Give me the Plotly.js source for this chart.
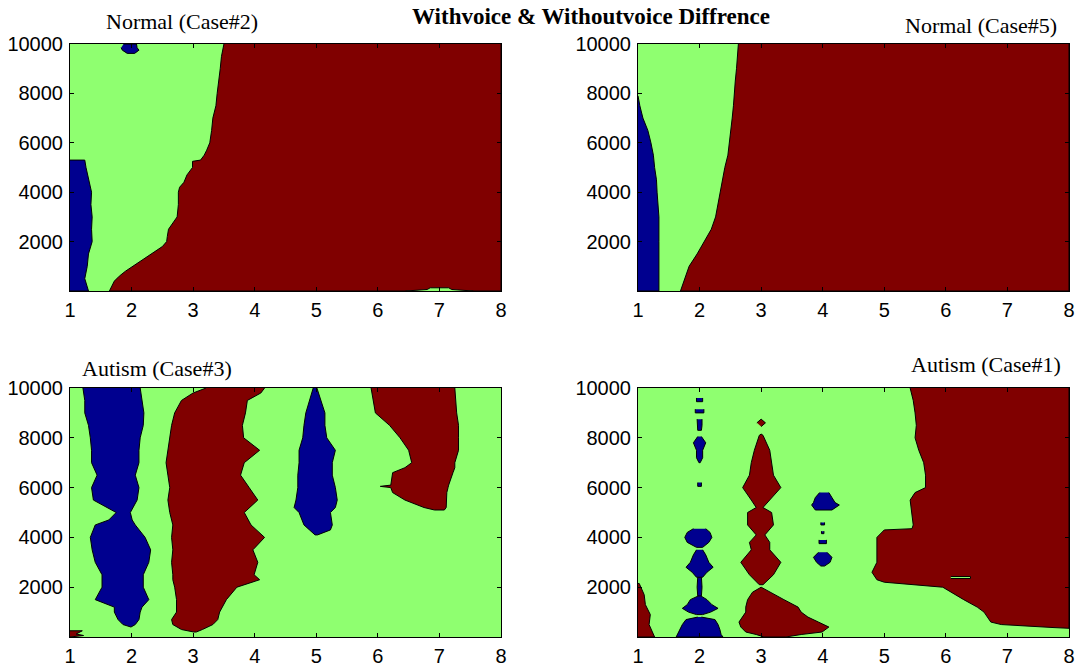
<!DOCTYPE html>
<html>
<head>
<meta charset="utf-8">
<script src="https://cdn.plot.ly/plotly-3.0.1.min.js"></script>
<style>html,body{margin:0;padding:0;background:#fff;}#chart{width:1076px;height:668px;}</style>
</head>
<body>
<div id="chart"></div>
<script>
// ---------- axis data ----------
const xTicks = [1, 2, 3, 4, 5, 6, 7, 8];
const xTickLabels = ['1', '2', '3', '4', '5', '6', '7', '8'];
const yTicks = [2000, 4000, 6000, 8000, 10000];
const yTickLabels = ['2000', '4000', '6000', '8000', '10000'];
const xRange = [1, 8];
const yRange = [0, 10000];

// ---------- Normal (Case#2) ----------
const n2RedY = [10000, 9500, 9000, 8500, 8000, 7500, 7000, 6500, 6000, 5700, 5500, 5300, 5250, 5000, 4700, 4400, 4200, 4000, 3500, 3000, 2700, 2500, 2200, 2000, 1800, 1500, 1200, 1000, 800, 600, 400, 200, 0];
const n2RedLeft = [3.50, 3.46, 3.44, 3.41, 3.39, 3.37, 3.32, 3.30, 3.27, 3.22, 3.18, 3.12, 2.99, 2.99, 2.90, 2.85, 2.78, 2.76, 2.76, 2.74, 2.66, 2.60, 2.58, 2.57, 2.50, 2.32, 2.15, 2.01, 1.90, 1.80, 1.72, 1.68, 1.64];
const n2BlueY = [5300, 5000, 4500, 4000, 3500, 3000, 2500, 2000, 1500, 1000, 500, 200, 0];
const n2BlueRight = [1.24, 1.26, 1.30, 1.35, 1.34, 1.36, 1.35, 1.36, 1.30, 1.28, 1.24, 1.27, 1.30];
const n2TopBlobX = [1.87, 2.08, 2.09, 2.12, 2.05, 1.93, 1.85, 1.83];
const n2TopBlobY = [10000, 10000, 9850, 9750, 9620, 9620, 9750, 9850];
const n2GreenBumpX = [6.45, 6.8, 6.85, 7.15, 7.2, 7.55];
const n2GreenBumpY = [0, 60, 130, 130, 60, 0];

// ---------- Normal (Case#5) ----------
const n5RedY = [10000, 9500, 9000, 8500, 8000, 7500, 7000, 6500, 6000, 5500, 5000, 4500, 4000, 3500, 3000, 2500, 2000, 1500, 1000, 500, 0];
const n5RedLeft = [2.63, 2.62, 2.60, 2.58, 2.57, 2.55, 2.53, 2.51, 2.49, 2.46, 2.41, 2.37, 2.33, 2.30, 2.26, 2.19, 2.08, 1.96, 1.83, 1.76, 1.69];
const n5BlueY = [7900, 7500, 7000, 6500, 6000, 5500, 5000, 4500, 4000, 3000, 2000, 1000, 0];
const n5BlueRight = [1.0, 1.03, 1.08, 1.16, 1.21, 1.25, 1.27, 1.30, 1.31, 1.34, 1.34, 1.34, 1.34];

// ---------- Autism (Case#3) ----------
const a3Blue2Y = [10000, 9500, 9000, 8500, 8000, 7500, 7000, 6500, 6000, 5500, 5000, 4700, 4500, 4000, 3500, 3000, 2500, 2000, 1500, 1200, 1000, 700, 500, 400];
const a3Blue2Left = [1.21, 1.24, 1.24, 1.30, 1.33, 1.35, 1.35, 1.44, 1.35, 1.38, 1.75, 1.63, 1.41, 1.33, 1.36, 1.41, 1.52, 1.52, 1.41, 1.72, 1.72, 1.78, 1.86, 1.97];
const a3Blue2Right = [2.14, 2.17, 2.20, 2.19, 2.14, 2.12, 2.12, 2.06, 2.12, 2.09, 1.98, 2.01, 2.06, 2.22, 2.31, 2.28, 2.19, 2.19, 2.28, 2.17, 2.14, 2.12, 2.06, 1.99];
const a3Red3Y = [10000, 9800, 9500, 9000, 8500, 8000, 7500, 7000, 6500, 6000, 5500, 5000, 4500, 4000, 3500, 3000, 2500, 2300, 2000, 1500, 1000, 700, 500, 300, 200];
const a3Red3Left = [3.21, 3.00, 2.81, 2.70, 2.65, 2.62, 2.59, 2.56, 2.59, 2.62, 2.59, 2.62, 2.67, 2.65, 2.67, 2.65, 2.67, 2.67, 2.70, 2.73, 2.73, 2.65, 2.67, 2.81, 3.01];
const a3Red3Right = [4.16, 4.10, 3.88, 3.85, 3.80, 3.82, 4.08, 3.83, 3.77, 3.91, 4.05, 3.83, 3.94, 4.16, 3.97, 4.05, 3.99, 4.08, 3.71, 3.54, 3.43, 3.40, 3.32, 3.15, 3.05];
const a3Blue5Y = [10000, 9500, 9000, 8500, 8000, 7500, 7000, 6500, 6000, 5500, 5200, 5000, 4500, 4300, 4100];
const a3Blue5Left = [4.95, 4.89, 4.83, 4.80, 4.78, 4.72, 4.72, 4.70, 4.70, 4.67, 4.64, 4.72, 4.80, 4.89, 4.98];
const a3Blue5Right = [5.01, 5.08, 5.14, 5.14, 5.17, 5.31, 5.26, 5.26, 5.31, 5.34, 5.31, 5.23, 5.26, 5.23, 5.02];
const a3Red7Y = [10000, 9000, 8500, 8000, 7500, 7000, 6800, 6600, 6100, 6050, 6000, 5800, 5500, 5200, 5100];
const a3Red7Left = [5.89, 5.96, 6.19, 6.36, 6.50, 6.55, 6.44, 6.24, 6.21, 6.04, 6.21, 6.24, 6.44, 6.75, 6.92];
const a3Red7Right = [7.25, 7.28, 7.31, 7.31, 7.31, 7.25, 7.25, 7.22, 7.15, 7.14, 7.14, 7.12, 7.11, 7.11, 7.08];
const a3RedCornerX = [1.0, 1.2, 1.1, 1.22, 1.0];
const a3RedCornerY = [250, 250, 120, 60, 0];

// ---------- Autism (Case#1) ----------
const a1RedY = [10000, 9500, 9000, 8500, 8000, 7500, 7000, 6500, 6000, 5800, 5500, 5000, 4500, 4350, 4300, 4000, 3500, 3000, 2600, 2300, 2200, 2100, 2000, 1500, 1200, 1000, 800, 600, 500, 420, 380, 350];
const a1RedLeft = [5.42, 5.47, 5.50, 5.52, 5.50, 5.56, 5.64, 5.67, 5.67, 5.50, 5.42, 5.44, 5.47, 5.45, 5.00, 4.88, 4.88, 4.88, 4.80, 4.88, 5.00, 5.50, 5.95, 6.29, 6.51, 6.62, 6.68, 6.73, 6.90, 7.35, 7.74, 8.00];
const a1GreenSliverX = [6.08, 6.40, 6.40, 6.08];
const a1GreenSliverY = [2350, 2350, 2430, 2430];
const a1RedLeftEdgeY = [2150, 1700, 1300, 900, 500, 0];
const a1RedLeftEdgeRight = [1.02, 1.10, 1.12, 1.20, 1.18, 1.27];
const a1Red3UpperY = [8150, 8100, 7500, 7000, 6500, 6000, 5500, 5200, 5000, 4500, 4100, 3800, 3500, 3000, 2500, 2100];
const a1Red3UpperLeft = [3.00, 2.97, 2.89, 2.84, 2.81, 2.70, 2.84, 2.92, 2.78, 2.78, 2.92, 2.81, 2.84, 2.67, 2.81, 2.97];
const a1Red3UpperRight = [3.00, 3.03, 3.14, 3.17, 3.20, 3.32, 3.14, 3.03, 3.17, 3.20, 3.06, 3.14, 3.14, 3.32, 3.20, 3.03];
const a1Red3TipX = [2.93, 3.00, 3.07, 3.00];
const a1Red3TipY = [8600, 8750, 8600, 8450];
const a1Red3LowerY = [2000, 1800, 1500, 1200, 1000, 800, 600, 400, 200, 100, 0];
const a1Red3LowerLeft = [3.00, 2.86, 2.78, 2.75, 2.75, 2.70, 2.64, 2.67, 2.75, 2.92, 3.05];
const a1Red3LowerRight = [3.00, 3.14, 3.37, 3.60, 3.65, 3.76, 3.93, 4.10, 3.99, 3.65, 3.40];
// blue blobs (y levels, left x, right x)
const a1BlueBlobsY = [
  [800, 700, 500, 300, 100, 0],
  [1650, 1500, 1300, 1150, 1000, 900],
  [2400, 2000, 1650],
  [3500, 3300, 3000, 2800, 2600, 2400],
  [4350, 4200, 4000, 3800, 3600],
  [6200, 6050],
  [8050, 7800, 7500, 7200, 7000],
  [8750, 8500, 8300],
  [9150, 9000],
  [9600, 9450],
  [5800, 5600, 5400, 5300, 5100],
  [3400, 3200, 3000, 2850],
  [3900, 3750],
  [4250, 4150],
  [4600, 4500]
];
const a1BlueBlobsLeft = [
  [1.97, 1.78, 1.72, 1.68, 1.65, 1.62],
  [1.98, 1.85, 1.80, 1.72, 1.82, 1.95],
  [1.97, 1.96, 1.97],
  [1.95, 1.90, 1.85, 1.78, 1.88, 1.95],
  [1.90, 1.80, 1.76, 1.80, 1.95],
  [1.97, 1.97],
  [1.97, 1.90, 1.95, 1.95, 1.99],
  [1.96, 1.96, 1.97],
  [1.93, 1.93],
  [1.95, 1.95],
  [3.95, 3.88, 3.85, 3.82, 3.88],
  [3.93, 3.85, 3.90, 3.97],
  [3.94, 3.94],
  [3.98, 3.98],
  [3.97, 3.97]
];
const a1BlueBlobsRight = [
  [2.03, 2.25, 2.30, 2.33, 2.35, 2.38],
  [2.02, 2.12, 2.20, 2.30, 2.18, 2.05],
  [2.03, 2.04, 2.03],
  [2.05, 2.10, 2.15, 2.22, 2.12, 2.05],
  [2.10, 2.17, 2.20, 2.15, 2.05],
  [2.03, 2.03],
  [2.03, 2.10, 2.05, 2.05, 2.01],
  [2.04, 2.04, 2.03],
  [2.07, 2.07],
  [2.05, 2.05],
  [4.10, 4.15, 4.20, 4.27, 4.15],
  [4.07, 4.15, 4.12, 4.03],
  [4.06, 4.06],
  [4.02, 4.02],
  [4.03, 4.03]
];

// ---------- text ----------
const mainTitle = 'Withvoice & Withoutvoice Diffrence';
const panelTitles = ['Normal (Case#2)', 'Normal (Case#5)', 'Autism (Case#3)', 'Autism (Case#1)'];

// ---------- styles ----------
const BLUE = 'rgb(0,0,143)';
const GREEN = 'rgb(143,255,112)';
const RED = 'rgb(128,0,0)';

// ---------- helpers ----------
function band(ys, left, right) {
  return { x: left.concat(right.slice().reverse()), y: ys.concat(ys.slice().reverse()) };
}
function fromLeftEdge(ys, right) {
  return { x: [xRange[0]].concat(right, [xRange[0]]), y: [ys[0]].concat(ys, [ys[ys.length - 1]]) };
}
function toRightEdge(ys, left) {
  return { x: left.concat([xRange[1], xRange[1]]), y: ys.concat([ys[ys.length - 1], ys[0]]) };
}
function merge(polys) {
  const x = [], y = [];
  polys.forEach((p, i) => {
    if (i > 0) { x.push(null); y.push(null); }
    x.push(...p.x); y.push(...p.y);
  });
  return { x, y };
}
function region(poly, color, k) {
  return {
    type: 'scatter', mode: 'lines', x: poly.x, y: poly.y,
    fill: 'toself', fillcolor: color,
    line: { color: 'black', width: 1 },
    xaxis: 'x' + (k === 1 ? '' : k), yaxis: 'y' + (k === 1 ? '' : k),
    hoverinfo: 'skip', showlegend: false
  };
}

const traces = [];
// panel 1
traces.push(region(toRightEdge(n2RedY, n2RedLeft), RED, 1));
traces.push(region(merge([fromLeftEdge(n2BlueY, n2BlueRight), { x: n2TopBlobX, y: n2TopBlobY }]), BLUE, 1));
traces.push(region({ x: n2GreenBumpX, y: n2GreenBumpY }, GREEN, 1));
// panel 2
traces.push(region(toRightEdge(n5RedY, n5RedLeft), RED, 2));
traces.push(region(fromLeftEdge(n5BlueY, n5BlueRight), BLUE, 2));
// panel 3
traces.push(region(merge([band(a3Red3Y, a3Red3Left, a3Red3Right), band(a3Red7Y, a3Red7Left, a3Red7Right), { x: a3RedCornerX, y: a3RedCornerY }]), RED, 3));
traces.push(region(merge([band(a3Blue2Y, a3Blue2Left, a3Blue2Right), band(a3Blue5Y, a3Blue5Left, a3Blue5Right)]), BLUE, 3));
// panel 4
traces.push(region(merge([
  toRightEdge(a1RedY, a1RedLeft),
  fromLeftEdge(a1RedLeftEdgeY, a1RedLeftEdgeRight),
  band(a1Red3UpperY, a1Red3UpperLeft, a1Red3UpperRight),
  { x: a1Red3TipX, y: a1Red3TipY },
  band(a1Red3LowerY, a1Red3LowerLeft, a1Red3LowerRight)
]), RED, 4));
traces.push(region({ x: a1GreenSliverX, y: a1GreenSliverY }, GREEN, 4));
traces.push(region(merge(a1BlueBlobsY.map((ys, i) => band(ys, a1BlueBlobsLeft[i], a1BlueBlobsRight[i]))), BLUE, 4));

// ---------- layout ----------
const W = 1076, H = 668;
const colDomains = [[70 / W, 501 / W], [638 / W, 1069 / W]];
const rowDomains = [[1 - 291 / H, 1 - 44 / H], [1 - 637 / H, 1 - 388 / H]];
const tickFont = { family: 'Liberation Sans, Arial, sans-serif', size: 20, color: 'black' };

function xAxis(col, anchor) {
  return {
    domain: colDomains[col], anchor: anchor, range: xRange, tickvals: xTicks, ticktext: xTickLabels,
    ticks: 'inside', ticklen: 4, tickcolor: 'black', tickwidth: 1,
    showline: true, linecolor: 'black', linewidth: 1, mirror: 'ticks',
    showgrid: false, zeroline: false, tickfont: tickFont, ticklabelstandoff: 1, fixedrange: true
  };
}
function yAxis(row, anchor) {
  return {
    domain: rowDomains[row], anchor: anchor, range: yRange, tickvals: yTicks, ticktext: yTickLabels,
    ticks: 'inside', ticklen: 4, tickcolor: 'black', tickwidth: 1,
    showline: true, linecolor: 'black', linewidth: 1, mirror: 'ticks',
    showgrid: false, zeroline: false, tickfont: tickFont, ticklabelstandoff: 2, fixedrange: true
  };
}

const serif = 'Liberation Serif, Times New Roman, serif';
const titlePos = [[182, 22], [981, 25], [157, 368], [986, 365]];
const annotations = panelTitles.map((t, i) => ({
  text: t, xref: 'paper', yref: 'paper', x: titlePos[i][0] / W, y: 1 - titlePos[i][1] / H,
  xanchor: 'center', yanchor: 'middle', showarrow: false,
  font: { family: serif, size: 22, color: 'black' }
}));
annotations.push({
  text: '<b>' + mainTitle + '</b>', xref: 'paper', yref: 'paper', x: 591 / W, y: 1 - 17 / H,
  xanchor: 'center', yanchor: 'middle', showarrow: false,
  font: { family: serif, size: 23, color: 'black' }
});

const layout = {
  width: W, height: H, margin: { l: 0, r: 0, t: 0, b: 0 },
  paper_bgcolor: 'white', plot_bgcolor: GREEN, showlegend: false, hovermode: false,
  xaxis: xAxis(0, 'y'), yaxis: yAxis(0, 'x'),
  xaxis2: xAxis(1, 'y2'), yaxis2: yAxis(0, 'x2'),
  xaxis3: xAxis(0, 'y3'), yaxis3: yAxis(1, 'x3'),
  xaxis4: xAxis(1, 'y4'), yaxis4: yAxis(1, 'x4'),
  annotations: annotations
};

Plotly.newPlot('chart', traces, layout, { staticPlot: true, displayModeBar: false });
</script>
</body>
</html>
